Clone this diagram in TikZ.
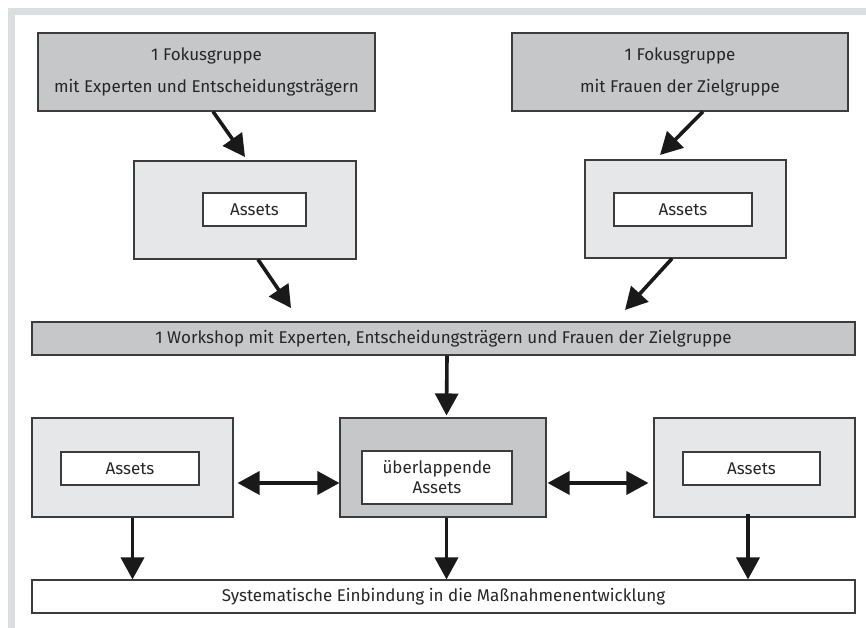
\documentclass[tikz,border=0pt]{standalone}
\usepackage{fontspec}
\setmainfont{Fira Sans}
\usetikzlibrary{arrows.meta,calc}
\definecolor{framegray}{HTML}{DCDDDF}
\definecolor{darkfill}{HTML}{C6C7C9}
\definecolor{lightfill}{HTML}{E6E7E8}
\definecolor{edgegray}{HTML}{3C3C3C}
\begin{document}
\begin{tikzpicture}[x=1pt,y=-1pt,
  every node/.style={font=\fontsize{17}{20}\selectfont, text=black!85, inner sep=0pt},
  darkbox/.style={draw=edgegray, line width=1.1pt, fill=darkfill, rectangle},
  lightbox/.style={draw=edgegray, line width=1.1pt, fill=lightfill, rectangle},
  whitebox/.style={draw=edgegray, line width=1.1pt, fill=white, rectangle},
  arr/.style={line width=3.6pt, draw=black!90, -{Triangle[length=22pt,width=23pt]}},
  darr/.style={line width=3.6pt, draw=black!90, {Triangle[length=22pt,width=23pt]}-{Triangle[length=22pt,width=23pt]}}]
\useasboundingbox (0,0) rectangle (866,628);
\fill[white] (0,0) rectangle (866,628);
\fill[framegray] (8,8) rectangle (866,15);
\fill[framegray] (8,8) rectangle (15,628);

\node[darkbox, minimum width=337pt, minimum height=78pt, align=center] (fok1) at (206.5,72)
  {1 Fokusgruppe\\[12pt]mit Experten und Entscheidungsträgern};
\node[darkbox, minimum width=336pt, minimum height=78pt, align=center] (fok2) at (680,72)
  {1 Fokusgruppe\\[12pt]mit Frauen der Zielgruppe};

\node[lightbox, minimum width=222pt, minimum height=98pt] (a1) at (245,210) {};
\node[whitebox, minimum width=103pt, minimum height=33pt] (a1i) at (254.5,209.5) {Assets};
\node[lightbox, minimum width=201pt, minimum height=98pt] (a2) at (685.5,209) {};
\node[whitebox, minimum width=138pt, minimum height=33pt] (a2i) at (683,209.5) {Assets};

\node[darkbox, minimum width=823pt, minimum height=33pt] (ws) at (443.5,338.5)
  {1 Workshop mit Experten, Entscheidungsträgern und Frauen der Zielgruppe};

\node[lightbox, minimum width=201pt, minimum height=99pt] (b1) at (132.5,467.5) {};
\node[whitebox, minimum width=138pt, minimum height=33pt] (b1i) at (130,468.5) {Assets};
\node[darkbox, minimum width=206pt, minimum height=99pt] (b2) at (443,467.5) {};
\node[whitebox, minimum width=150pt, minimum height=53pt, align=center] (b2i) at (437,477.5)
  {überlappende\\[0pt]Assets};
\node[lightbox, minimum width=201pt, minimum height=99pt] (b3) at (754.5,467.5) {};
\node[whitebox, minimum width=137pt, minimum height=33pt] (b3i) at (751.5,468.5) {Assets};

\node[whitebox, minimum width=823pt, minimum height=33pt] (sys) at (443.5,596.5)
  {Systematische Einbindung in die Maßnahmenentwicklung};

\coordinate (t1) at (245,157);
\coordinate (t2) at (291,308);
\coordinate (t3) at (660,155);
\coordinate (t4) at (625,310);

\draw[arr] ([xshift=6.5pt]fok1.south) -- (t1);
\draw[arr] ([xshift=13pt]a1.south) -- (t2);
\draw[arr] ([xshift=23pt]fok2.south) -- (t3);
\draw[arr] ([xshift=-13.5pt]a2.south) -- (t4);
\draw[arr] ([xshift=3.5pt]ws.south) -- ([xshift=3.5pt,yshift=2pt]b2.north);
\draw[darr] ([xshift=4pt,yshift=-15.5pt]b1.east) -- ([yshift=-15.5pt]b2.west);
\draw[darr] ([xshift=1pt,yshift=-15.5pt]b2.east) -- ([xshift=-5pt,yshift=-15.5pt]b3.west);
\draw[arr] (b1.south) -- (b1.south |- sys.north);
\draw[arr] ([xshift=3.5pt]b2.south) -- ([xshift=3.5pt]b2.south |- sys.north);
\draw[arr] ([xshift=-6.5pt,yshift=4pt]b3.south) -- ([xshift=-6.5pt]b3.south |- sys.north);
\end{tikzpicture}
\end{document}
